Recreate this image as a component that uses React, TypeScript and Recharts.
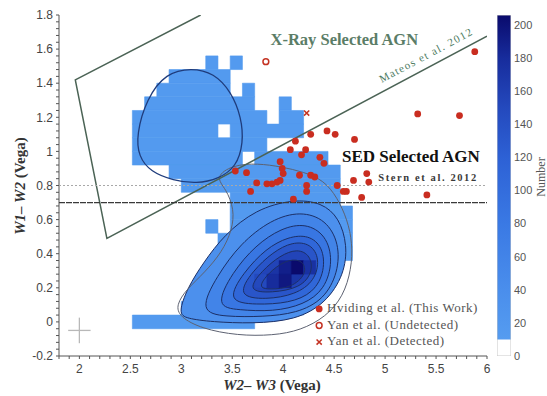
import React from "react";
import { ScatterChart, Scatter, XAxis, YAxis, ErrorBar } from "recharts";

type Pt = [number, number];

const serif = "'Liberation Serif', 'Times New Roman', serif";
const sans = "'Liberation Sans', Arial, sans-serif";

// histogram cells: 0.12 mag (W2-W3) x 0.08 mag (W1-W2), starting at (1.8, -0.2)
const cellX0 = 1.8;
const cellW = 0.12;
const cellY0 = -0.2;
const cellH = 0.08;

// occupied runs of low-count cells: [row, first col, last col]
const cellRuns: [number, number, number][] = [
  [21, 12, 12], [21, 14, 14],
  [20, 9, 13],
  [19, 8, 13], [19, 15, 15],
  [18, 7, 15], [18, 18, 18],
  [17, 6, 16], [17, 18, 19],
  [16, 6, 12], [16, 14, 19],
  [15, 6, 16],
  [14, 6, 14], [14, 16, 21],
  [13, 9, 22],
  [12, 10, 22],
  [11, 14, 22],
  [10, 14, 23],
  [9, 12, 12], [9, 14, 23],
  [8, 13, 23],
  [7, 14, 23],
  [6, 14, 22],
  [5, 12, 20],
  [4, 11, 20],
  [3, 10, 19],
  [2, 6, 15],
];
const lowCount = 15;

// densest cells at the peak: [col, row, count]
const peakCells: [number, number, number][] = [
  [18, 6, 190], [19, 6, 206], [20, 6, 175],
  [16, 5, 150], [17, 5, 180], [18, 5, 195],
];

// density contours of the comparison sample, outermost first, with their levels
const contourLevels = [35, 60, 85, 110, 135, 155, 172];
const densityContours: Pt[][] = [
  [[2.97, 0.05], [3.06, 0.2], [3.22, 0.35], [3.42, 0.51], [3.73, 0.66], [4.1, 0.72], [4.38, 0.7], [4.55, 0.61], [4.63, 0.45], [4.6, 0.28], [4.42, 0.11], [4.12, 0.01], [3.7, -0.01], [3.3, 0.0], [3.05, 0.02]],
  [[3.17, 0.06], [3.35, 0.27], [3.58, 0.46], [3.88, 0.6], [4.17, 0.65], [4.42, 0.6], [4.55, 0.46], [4.54, 0.29], [4.4, 0.13], [4.13, 0.05], [3.8, 0.03], [3.43, 0.03]],
  [[3.33, 0.09], [3.5, 0.29], [3.73, 0.45], [3.98, 0.55], [4.22, 0.58], [4.42, 0.51], [4.49, 0.36], [4.41, 0.19], [4.2, 0.1], [3.9, 0.06], [3.56, 0.07]],
  [[3.44, 0.12], [3.61, 0.29], [3.83, 0.43], [4.05, 0.5], [4.25, 0.51], [4.39, 0.44], [4.41, 0.3], [4.3, 0.17], [4.06, 0.11], [3.73, 0.1]],
  [[3.54, 0.15], [3.7, 0.3], [3.9, 0.41], [4.09, 0.47], [4.27, 0.46], [4.36, 0.37], [4.31, 0.24], [4.12, 0.16], [3.83, 0.13]],
  [[3.64, 0.18], [3.79, 0.3], [3.97, 0.39], [4.14, 0.43], [4.27, 0.39], [4.29, 0.29], [4.17, 0.2], [3.89, 0.17]],
  [[3.74, 0.2], [3.89, 0.31], [4.06, 0.37], [4.2, 0.36], [4.23, 0.28], [4.08, 0.2], [3.87, 0.19]],
];

// lowest contour, wrapping both the main locus and the SED region
const outerContour: Pt[] = [
  [3.33, 0.85], [3.5, 0.92], [3.75, 0.93], [3.98, 0.91], [4.2, 0.88], [4.4, 0.83], [4.53, 0.73], [4.63, 0.6],
  [4.68, 0.46], [4.67, 0.31], [4.59, 0.15], [4.42, 0.03], [4.17, -0.05], [3.9, -0.08], [3.55, -0.08],
  [3.2, -0.04], [2.98, 0.03], [2.95, 0.1], [3.05, 0.19], [3.23, 0.29], [3.4, 0.41], [3.5, 0.54],
  [3.52, 0.66], [3.44, 0.78],
];

// contour around the upper (red, AGN-like) clump
const upperContour: Pt[] = [
  [3.1, 1.49], [2.85, 1.46], [2.66, 1.31], [2.56, 1.1], [2.58, 0.97], [2.7, 0.88], [2.92, 0.83], [3.15, 0.81],
  [3.37, 0.84], [3.54, 0.91], [3.61, 1.05], [3.59, 1.2], [3.49, 1.35], [3.32, 1.46],
];

// Mateos et al. 2012 wedge
const mateosWedge: Pt[] = [[3.19, 1.8], [1.96, 1.42], [2.27, 0.49], [6.0, 1.676]];

const sternCut = 0.8;
const sedCut = 0.7;

// this work
const hvidingPts: Pt[] = [
  [4.27, 1.1], [4.43, 1.12], [4.51, 1.1], [4.7, 1.07], [4.12, 1.06], [4.07, 1.01], [4.22, 1.01], [4.18, 0.98],
  [4.36, 0.965], [3.97, 0.94], [3.99, 0.9], [4.0, 0.87], [3.97, 0.83], [3.94, 0.82], [3.89, 0.81], [3.84, 0.81],
  [3.53, 0.885], [3.64, 0.875], [3.74, 0.815], [3.68, 0.765], [4.16, 0.86], [4.23, 0.8], [4.27, 0.86], [4.31, 0.85],
  [4.23, 0.765], [4.1, 0.72], [4.53, 0.8], [4.69, 0.83], [4.62, 0.765], [4.59, 0.765], [4.82, 0.87], [4.84, 0.82],
  [4.77, 0.73], [5.41, 0.745], [5.32, 1.22], [5.73, 1.21], [5.88, 1.585], [4.4, 0.93],
];
const yanUndetected: Pt[] = [[3.83, 1.526]];
const yanDetected: Pt[] = [[4.23, 1.225]];

// typical uncertainty
const typicalError = { x: 2.0, y: -0.05, ex: 0.11, ey: 0.075 };

const legendItems = ["Hviding et al. (This Work)", "Yan et al. (Undetected)", "Yan et al. (Detected)"];

const colorStops: [number, string][] = [
  [10, "#559cf0"], [40, "#4a8eec"], [80, "#3a79e4"], [120, "#2d61d5"],
  [150, "#2449bd"], [180, "#172c9c"], [206, "#0a0a6c"],
];
const colorbarMax = 206;
const colorbarTicks = [0, 20, 40, 60, 80, 100, 120, 140, 160, 180, 200];

const xTicks = Array.from({ length: 43 }, (_, i) => +(1.8 + i * 0.1).toFixed(2));
const yTicks = Array.from({ length: 51 }, (_, i) => +(-0.2 + i * 0.04).toFixed(2));

const rgb = (h: string) => [1, 3, 5].map((i) => parseInt(h.slice(i, i + 2), 16));

function countColor(v: number): string {
  if (v < colorStops[0][0]) return "#ffffff";
  for (let i = 1; i < colorStops.length; i++) {
    const [v1, c1] = colorStops[i];
    if (v <= v1) {
      const [v0, c0] = colorStops[i - 1];
      const t = (v - v0) / (v1 - v0);
      const a = rgb(c0);
      const b = rgb(c1);
      return `rgb(${a.map((ai, k) => Math.round(ai + (b[k] - ai) * t)).join(",")})`;
    }
  }
  return colorStops[colorStops.length - 1][1];
}

const toData = (pts: Pt[]) => pts.map(([x, y]) => ({ x, y }));
const noDot = () => <g />;

function cellBox(c0: number, c1: number, r0: number, r1: number): Pt[] {
  const x0 = cellX0 + c0 * cellW;
  const x1 = cellX0 + (c1 + 1) * cellW;
  const y0 = cellY0 + r0 * cellH;
  const y1 = cellY0 + (r1 + 1) * cellH;
  return [[x0, y0], [x1, y0], [x1, y1], [x0, y1]];
}

function shapeSeries(key: string, pts: Pt[], line: object, joint = "linearClosed") {
  return (
    <Scatter
      key={key}
      data={toData(pts)}
      shape={noDot}
      line={line}
      lineJointType={joint as any}
      isAnimationActive={false}
    />
  );
}

function labelSeries(key: string, at: Pt, text: string, style: React.SVGProps<SVGTextElement>, rotate = 0) {
  return (
    <Scatter
      key={key}
      data={toData([at])}
      isAnimationActive={false}
      shape={(p: any) => (
        <text
          x={p.cx}
          y={p.cy}
          transform={rotate ? `rotate(${rotate}, ${p.cx}, ${p.cy})` : undefined}
          {...style}
        >
          {text}
        </text>
      )}
    />
  );
}

const redDot = (p: any) => <circle cx={p.cx} cy={p.cy} r={3.4} fill="#c92d20" />;
const openDot = (p: any) => <circle cx={p.cx} cy={p.cy} r={2.9} fill="none" stroke="#c43323" strokeWidth={1.5} />;
const crossMark = (p: any) => (
  <path
    d={`M${p.cx - 2.6},${p.cy - 2.6}L${p.cx + 2.6},${p.cy + 2.6}M${p.cx - 2.6},${p.cy + 2.6}L${p.cx + 2.6},${p.cy - 2.6}`}
    stroke="#c43323"
    strokeWidth={1.5}
  />
);
const legendShapes = [redDot, openDot, crossMark];

const xLabel = (v: number) => (Math.abs(v * 2 - Math.round(v * 2)) < 1e-6 ? String(+v.toFixed(1)) : "");
const yLabel = (v: number) => (Math.abs(v * 5 - Math.round(v * 5)) < 1e-6 ? String(+v.toFixed(1)) : "");
const blank = () => "";

const tickFont = { fontFamily: sans, fontSize: 12, fill: "#444" };
const frame = "#555";
const contourStroke = "#1c2f66";

function ColorChart() {
  const span = colorbarMax - colorStops[0][0];
  return (
    <ScatterChart width={67} height={396} margin={{ top: 15, right: 0, bottom: 40, left: 17 }}>
      <defs>
        <linearGradient id="cbarGrad" x1="0" y1="1" x2="0" y2="0">
          {colorStops.map(([v, c]) => (
            <stop key={v} offset={(v - colorStops[0][0]) / span} stopColor={c} />
          ))}
        </linearGradient>
      </defs>
      <XAxis type="number" dataKey="x" domain={[0, 1]} hide allowDataOverflow />
      <YAxis
        type="number"
        dataKey="y"
        orientation="right"
        domain={[0, colorbarMax]}
        ticks={colorbarTicks}
        interval={0}
        allowDataOverflow
        axisLine={false}
        tickLine={false}
        tickSize={0}
        tickMargin={3}
        width={36}
        tick={{ fontFamily: sans, fontSize: 11, fill: "#555" }}
      />
      {shapeSeries("cb-fill", [[0, colorStops[0][0]], [1, colorStops[0][0]], [1, colorbarMax], [0, colorbarMax]], {
        fill: "url(#cbarGrad)",
        stroke: "none",
      })}
      {shapeSeries("cb-frame", [[0, 0], [1, 0], [1, colorbarMax], [0, colorbarMax]], {
        fill: "none",
        stroke: "#c8c8c8",
        strokeWidth: 1,
      })}
    </ScatterChart>
  );
}

export default function App() {
  return (
    <div style={{ position: "absolute", left: 0, top: 0, width: 547, height: 396, background: "#fff" }}>
      <ScatterChart width={495} height={396} margin={{ top: 15, right: 8, bottom: 10, left: 19 }}>
        <XAxis
          type="number"
          dataKey="x"
          domain={[1.8, 6]}
          ticks={xTicks}
          interval={0}
          allowDataOverflow
          tickSize={3}
          tickMargin={5}
          tickFormatter={xLabel}
          tick={tickFont}
          stroke={frame}
          height={30}
        />
        <XAxis
          xAxisId="top"
          orientation="top"
          type="number"
          dataKey="x"
          domain={[1.8, 6]}
          ticks={xTicks}
          interval={0}
          allowDataOverflow
          mirror
          tickSize={3}
          tickFormatter={blank}
          stroke={frame}
          height={0}
        />
        <YAxis
          type="number"
          dataKey="y"
          domain={[-0.2, 1.8]}
          ticks={yTicks}
          interval={0}
          allowDataOverflow
          tickSize={3}
          tickMargin={3}
          tickFormatter={yLabel}
          tick={tickFont}
          stroke={frame}
          width={40}
        />
        <YAxis
          yAxisId="right"
          orientation="right"
          type="number"
          dataKey="y"
          domain={[-0.2, 1.8]}
          ticks={yTicks}
          interval={0}
          allowDataOverflow
          mirror
          tickSize={3}
          tickFormatter={blank}
          stroke={frame}
          width={0}
        />

        {/* low-count histogram cells */}
        {cellRuns.map(([r, c0, c1], i) =>
          shapeSeries(`cell-${i}`, cellBox(c0, c1, r, r), {
            fill: countColor(lowCount),
            stroke: countColor(lowCount),
            strokeWidth: 0.6,
          })
        )}

        {/* filled density levels */}
        {densityContours.map((pts, i) =>
          shapeSeries(`fill-${i}`, pts, { fill: countColor(contourLevels[i]), stroke: "none" }, "basisClosed")
        )}

        {/* peak cells */}
        {peakCells.map(([c, r, n], i) =>
          shapeSeries(`peak-${i}`, cellBox(c, c, r, r), { fill: countColor(n), stroke: countColor(n), strokeWidth: 0.4 })
        )}

        {/* contour lines */}
        {densityContours.map((pts, i) =>
          shapeSeries(`line-${i}`, pts, { fill: "none", stroke: contourStroke, strokeWidth: 1 }, "basisClosed")
        )}
        {shapeSeries("outer", outerContour, { fill: "none", stroke: "#5d6272", strokeWidth: 1 }, "basisClosed")}
        {shapeSeries("upper", upperContour, { fill: "none", stroke: "#1f3c7c", strokeWidth: 1.3 }, "basisClosed")}

        {/* selection criteria */}
        {shapeSeries("mateos", mateosWedge, { fill: "none", stroke: "#4b6355", strokeWidth: 1.5 }, "linear")}
        {shapeSeries("stern", [[1.8, sternCut], [6, sternCut]], {
          fill: "none",
          stroke: "#a8a8a8",
          strokeWidth: 1,
          strokeDasharray: "2 2",
        }, "linear")}
        {shapeSeries("sed", [[1.8, sedCut], [6, sedCut]], {
          fill: "none",
          stroke: "#3a3a3a",
          strokeWidth: 1.3,
          strokeDasharray: "6 1",
        }, "linear")}

        {/* typical error */}
        <Scatter data={[typicalError]} shape={noDot} isAnimationActive={false}>
          <ErrorBar dataKey="ex" direction="x" width={0} stroke="#b8b8b8" strokeWidth={1.3} />
          <ErrorBar dataKey="ey" direction="y" width={0} stroke="#b8b8b8" strokeWidth={1.3} />
        </Scatter>

        {/* sources */}
        <Scatter data={toData(hvidingPts)} shape={redDot} isAnimationActive={false} />
        <Scatter data={toData(yanUndetected)} shape={openDot} isAnimationActive={false} />
        <Scatter data={toData(yanDetected)} shape={crossMark} isAnimationActive={false} />

        {/* region labels */}
        {labelSeries("xray", [4.6, 1.624], "X-Ray Selected AGN", {
          fontFamily: serif,
          fontSize: 16.5,
          fontWeight: 700,
          fill: "#5b7d67",
          textAnchor: "middle",
        })}
        {labelSeries("sedLbl", [5.93, 0.938], "SED Selected AGN", {
          fontFamily: serif,
          fontSize: 17,
          fontWeight: 700,
          fill: "#111",
          textAnchor: "end",
        })}
        {labelSeries("sternLbl", [5.91, 0.829], "Stern et al. 2012", {
          fontFamily: serif,
          fontSize: 10.5,
          fontWeight: 700,
          fill: "#3a3a3a",
          textAnchor: "end",
          letterSpacing: 1.6,
        })}
        {labelSeries("mateosLbl", [5.42, 1.545], "Mateos et al. 2012", {
          fontFamily: serif,
          fontSize: 11,
          fill: "#4b7a5e",
          textAnchor: "middle",
          letterSpacing: 1.3,
        }, -28)}

        {/* legend */}
        {legendItems.map((name, i) => (
          <Scatter
            key={`lg-mark-${i}`}
            data={[{ x: 4.353, y: 0.076 - i * 0.097 }]}
            shape={legendShapes[i]}
            isAnimationActive={false}
          />
        ))}
        {legendItems.map((name, i) =>
          labelSeries(`lg-text-${i}`, [4.431, 0.056 - i * 0.097], name, {
            fontFamily: serif,
            fontSize: 13,
            fill: "#555",
            letterSpacing: 0.5,
          })
        )}
      </ScatterChart>

      <div style={{ position: "absolute", left: 480, top: 0 }}>
        <ColorChart />
      </div>

      <div
        style={{
          position: "absolute",
          left: 272,
          top: 377,
          transform: "translateX(-50%)",
          whiteSpace: "nowrap",
          fontFamily: serif,
          fontWeight: 700,
          fontSize: 15,
          color: "#333",
          lineHeight: "16px",
        }}
      >
        <i>W2– W3</i> (Vega)
      </div>
      <div
        style={{
          position: "absolute",
          left: 20,
          top: 186,
          transform: "translate(-50%, -50%) rotate(-90deg)",
          whiteSpace: "nowrap",
          fontFamily: serif,
          fontWeight: 700,
          fontSize: 15,
          color: "#333",
          lineHeight: "16px",
        }}
      >
        <i>W1– W2</i> (Vega)
      </div>
      <div
        style={{
          position: "absolute",
          left: 541,
          top: 177,
          transform: "translate(-50%, -50%) rotate(-90deg)",
          whiteSpace: "nowrap",
          fontFamily: serif,
          fontSize: 12,
          color: "#555",
        }}
      >
        Number
      </div>
    </div>
  );
}
